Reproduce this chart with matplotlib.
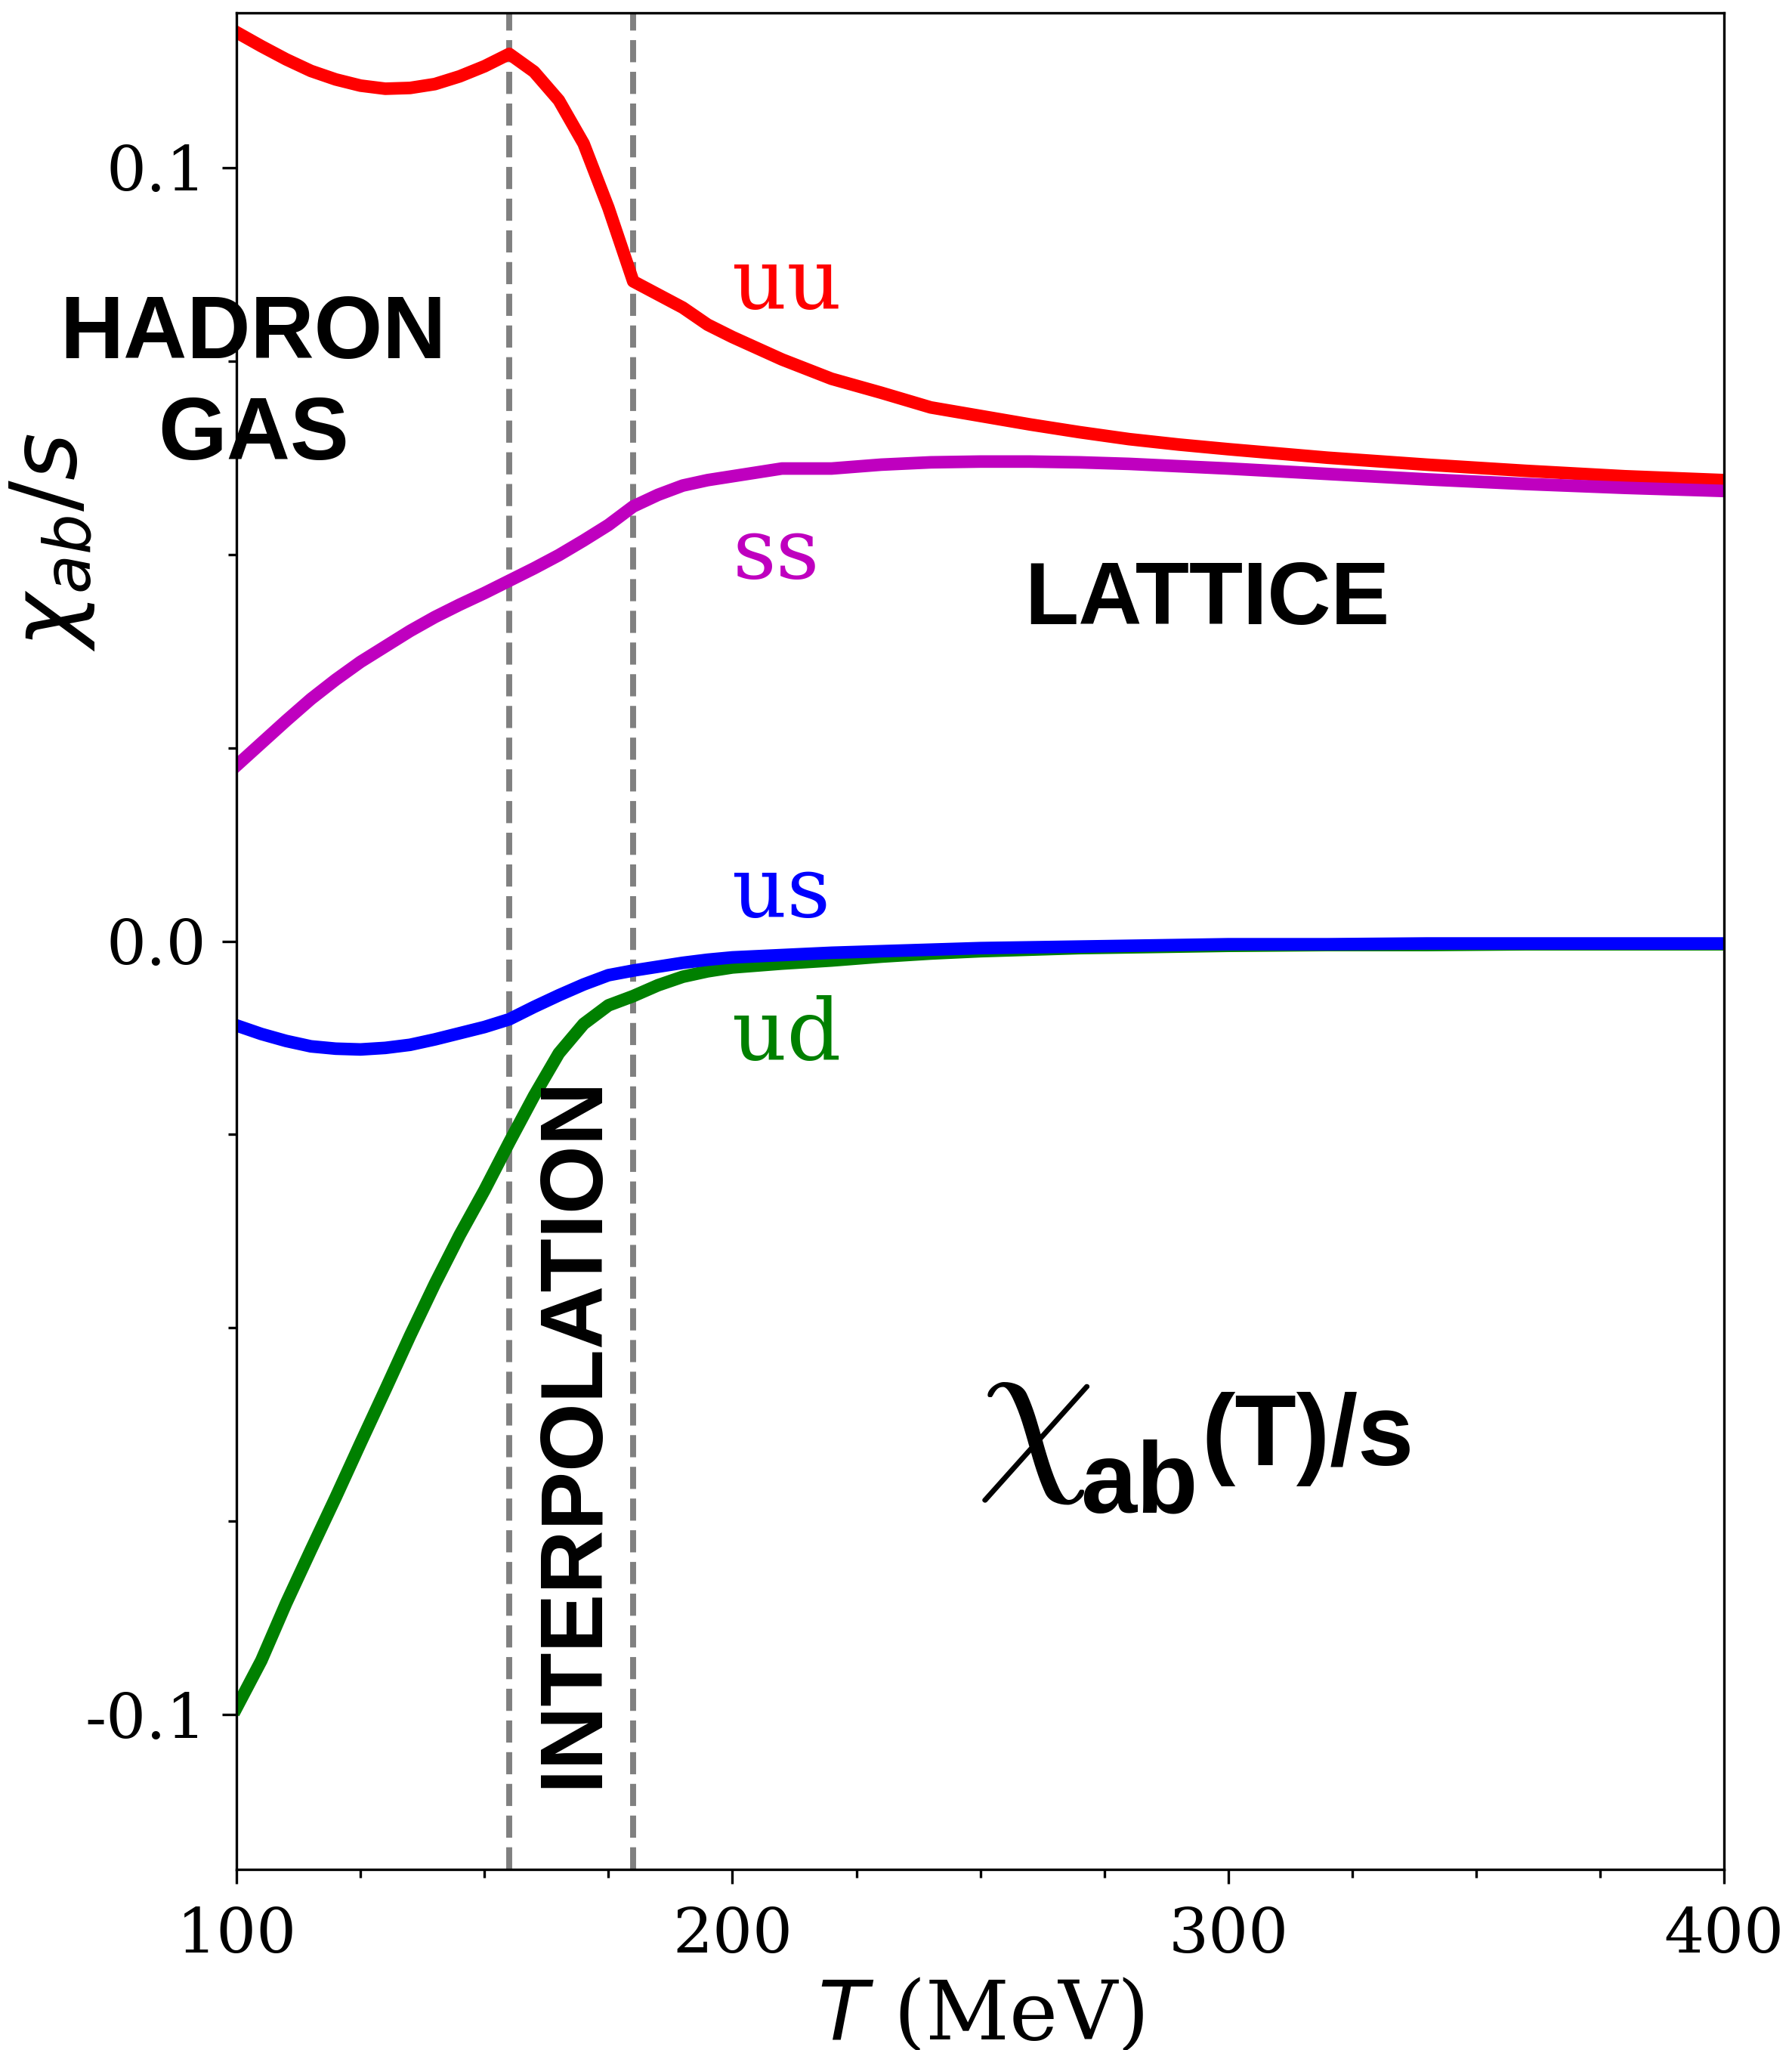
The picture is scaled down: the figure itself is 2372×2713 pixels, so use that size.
import numpy as np
import matplotlib
matplotlib.use('Agg')
import matplotlib.pyplot as plt
from matplotlib.ticker import MultipleLocator, FormatStrFormatter

# temperature grid (MeV)
T = [100, 105, 110, 115, 120, 125, 130, 135, 140, 145, 150, 155, 160, 165,
     170, 175, 180, 185, 190, 195, 200, 210, 220, 230, 240, 250, 260, 270,
     280, 290, 300, 320, 340, 360, 380, 400]

chi_uu = [0.1175, 0.1157, 0.1140, 0.1125, 0.1114, 0.1106, 0.1102, 0.1103,
          0.1108, 0.1118, 0.1131, 0.1147, 0.1124, 0.1087, 0.1031, 0.0948,
          0.0853, 0.0836, 0.0819, 0.0797, 0.0781, 0.0752, 0.0727, 0.0709,
          0.0690, 0.0679, 0.0668, 0.0658, 0.0649, 0.0642, 0.0636, 0.0625,
          0.0616, 0.0608, 0.0601, 0.0596]
chi_ss = [0.0227, 0.0256, 0.0285, 0.0313, 0.0338, 0.0361, 0.0381, 0.0401,
          0.0419, 0.0435, 0.0450, 0.0466, 0.0482, 0.0499, 0.0518, 0.0538,
          0.0562, 0.0577, 0.0589, 0.0596, 0.0601, 0.0611, 0.0611, 0.0616,
          0.0619, 0.0620, 0.0620, 0.0619, 0.0617, 0.0614, 0.0611, 0.0604,
          0.0597, 0.0591, 0.0586, 0.0582]
chi_us = [-0.0109, -0.0120, -0.0129, -0.0136, -0.0139, -0.0140, -0.0138,
          -0.0134, -0.0127, -0.0119, -0.0111, -0.0101, -0.0085, -0.0070,
          -0.0056, -0.0044, -0.0038, -0.0033, -0.0028, -0.0024, -0.0021,
          -0.0018, -0.0015, -0.0013, -0.0011, -0.0009, -0.0008, -0.0007,
          -0.0006, -0.0005, -0.0004, -0.0004, -0.0003, -0.0003, -0.0003,
          -0.0003]
chi_ud = [-0.0991, -0.0930, -0.0856, -0.0787, -0.0719, -0.0649, -0.0580,
          -0.0510, -0.0443, -0.0380, -0.0322, -0.0260, -0.0200, -0.0145,
          -0.0107, -0.0083, -0.0071, -0.0057, -0.0046, -0.0039, -0.0034,
          -0.0029, -0.0025, -0.0020, -0.0016, -0.0013, -0.0011, -0.0009,
          -0.0008, -0.0007, -0.0006, -0.0005, -0.0005, -0.0004, -0.0004,
          -0.0004]

T_switch = [155, 180]  # hadron gas -> interpolation -> lattice

plt.rcParams['font.family'] = 'DejaVu Serif'
plt.rcParams['mathtext.fontset'] = 'dejavusans'
plt.rcParams['axes.unicode_minus'] = False

fig = plt.figure(figsize=(2372/300, 2713/300), dpi=300)
ax = fig.add_axes([0.132, 0.0881, 0.8301, 0.9056])

for ts in T_switch:
    ax.axvline(ts, color='gray', ls='--', lw=1.9, zorder=1)

ax.plot(T, chi_uu, color='r', lw=4.0, zorder=2)
ax.plot(T, chi_ss, color='m', lw=4.0, zorder=2)
ax.plot(T, chi_ud, color='g', lw=4.0, zorder=2)
ax.plot(T, chi_us, color='b', lw=4.0, zorder=2)

ax.set_xlim(100, 400)
ax.set_ylim(-0.12, 0.12)
ax.xaxis.set_major_locator(MultipleLocator(100))
ax.xaxis.set_minor_locator(MultipleLocator(25))
ax.yaxis.set_major_locator(MultipleLocator(0.1))
ax.yaxis.set_minor_locator(MultipleLocator(0.025))
ax.yaxis.set_major_formatter(FormatStrFormatter('%.1f'))
ax.tick_params(which='major', length=4.6, width=0.8, labelsize=20)
ax.tick_params(which='minor', length=2.6, width=0.8)
ax.tick_params(axis='x', pad=7)
ax.tick_params(axis='y', pad=5)

ax.set_xlabel(r'$T$ (MeV)', fontsize=26)
ax.set_ylabel(r'$\chi_{ab}/s$', fontsize=29)
ax.xaxis.set_label_coords(0.5, -0.058)
ax.yaxis.set_label_coords(-0.094, 0.715)

# curve labels
lab = dict(fontsize=27, va='baseline', ha='left')
ax.text(200, 0.0818, 'uu', color='r', **lab)
ax.text(200, 0.0469, 'ss', color='m', **lab)
ax.text(200, 0.0032, 'us', color='b', **lab)
ax.text(200, -0.0153, 'ud', color='g', **lab)

# region labels
bold = dict(family='Liberation Sans', weight='bold', fontsize=28)
ax.text(103.4, 0.0718, 'HADRON\nGAS', ha='center', va='center',
        linespacing=1.3, **bold)
ax.text(295.8, 0.0440, 'LATTICE', ha='center', va='center', **bold)
ax.text(168.1, -0.0634, 'INTERPOLATION', rotation=90, ha='center',
        va='center', zorder=3, **bold)

# big chi_ab(T)/s label
ax.text(249.1, -0.0678, r'$\chi$', fontsize=60, math_fontfamily='cm',
        ha='left', va='baseline')
ax.text(270.2, -0.0738, 'ab', family='Liberation Sans', weight='bold',
        fontsize=32, ha='left', va='baseline')
ax.text(294.6, -0.0677, '(T)/s', family='Liberation Sans', weight='bold',
        fontsize=32, ha='left', va='baseline')

fig.savefig('out.png', dpi=300)
